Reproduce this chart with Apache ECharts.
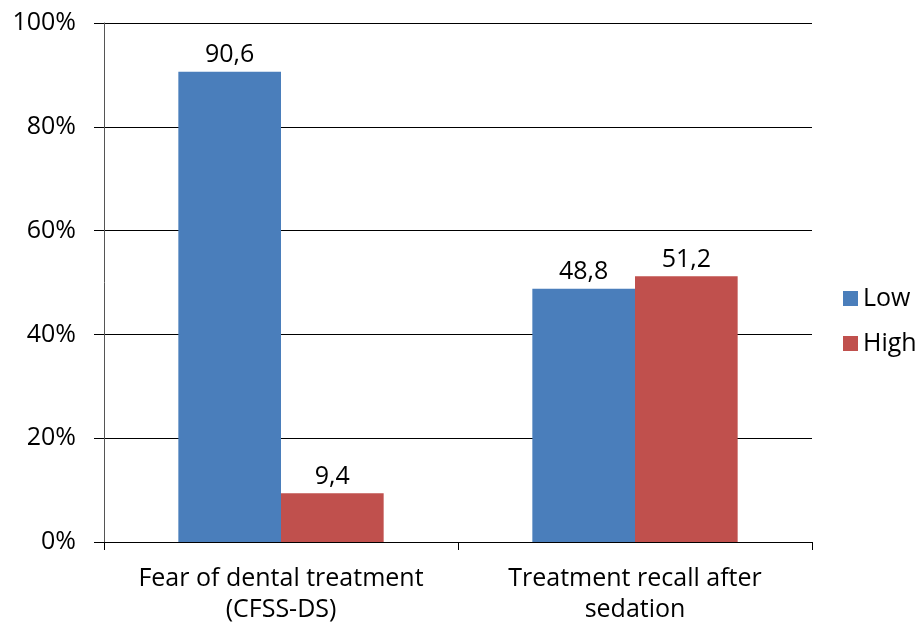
<!DOCTYPE html>
<html>
<head>
<meta charset="utf-8">
<script src="https://cdn.jsdelivr.net/npm/echarts@6/dist/echarts.min.js"></script>
<style>
html,body{margin:0;padding:0;background:#fff;}
#chart{width:921px;height:628px;}
</style>
</head>
<body>
<div id="chart"></div>
<script>
// Share of children with low / high levels, per measure
const categories = ['Fear of dental treatment\n(CFSS-DS)', 'Treatment recall after\nsedation'];
const lowValues = [90.6, 48.8];
const highValues = [9.4, 51.2];
const seriesNames = ['Low', 'High'];

const font = '"Open Sans", "Noto Sans", sans-serif';
const fs = 25;
const chart = echarts.init(document.getElementById('chart'));

const labelOpt = {
  show: true,
  position: 'top',
  distance: 4,
  color: '#000',
  fontSize: fs,
  fontFamily: font,
  formatter: p => String(p.value).replace('.', ',')
};

chart.setOption({
  animation: false,
  grid: { left: 104, right: 109, top: 23, bottom: 86 },
  legend: {
    orient: 'vertical',
    left: 843,
    top: 286,
    padding: 0,
    itemWidth: 15,
    itemHeight: 15,
    itemGap: 20,
    icon: 'rect',
    textStyle: { fontSize: fs, fontFamily: font, color: '#000', padding: [0, 0, 0, 0] },
    data: seriesNames
  },
  xAxis: {
    type: 'category',
    data: categories,
    axisLine: { lineStyle: { color: '#000', width: 1 } },
    axisTick: { show: true, length: 8, lineStyle: { color: '#000' } },
    axisLabel: {
      color: '#000', fontSize: fs, fontFamily: font, margin: 21, lineHeight: 31,
      interval: 0, hideOverlap: false
    }
  },
  yAxis: {
    type: 'value',
    min: 0,
    max: 100,
    interval: 20,
    axisLine: { show: true, lineStyle: { color: '#555', width: 1 } },
    axisTick: { show: true, length: 10, lineStyle: { color: '#000' } },
    axisLabel: { color: '#000', fontSize: fs, fontFamily: font, margin: 28, formatter: '{value}%' },
    splitLine: { lineStyle: { color: '#000', width: 1 } }
  },
  series: [
    {
      name: seriesNames[0],
      type: 'bar',
      data: lowValues,
      barGap: '0%',
      barCategoryGap: '42%',
      itemStyle: { color: '#4a7ebb' },
      label: labelOpt
    },
    {
      name: seriesNames[1],
      type: 'bar',
      data: highValues,
      barGap: '0%',
      barCategoryGap: '42%',
      itemStyle: { color: '#c0504d' },
      label: labelOpt
    }
  ]
});
</script>
</body>
</html>
